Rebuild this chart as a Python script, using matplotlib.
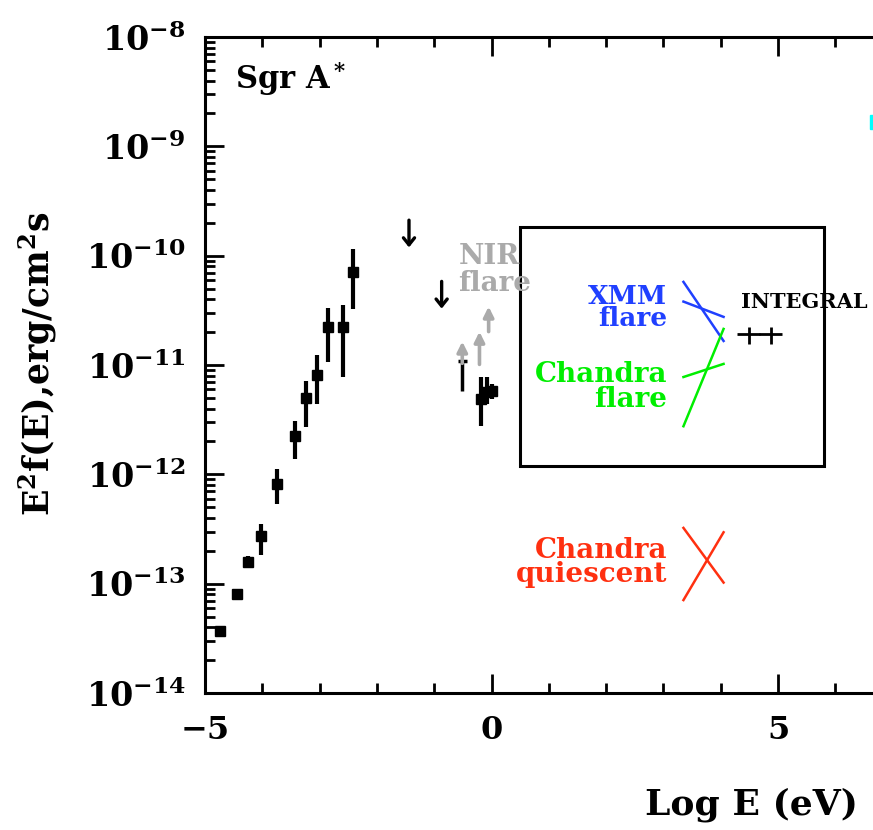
import matplotlib
matplotlib.use('Agg')
import matplotlib.pyplot as plt
import numpy as np
from matplotlib.ticker import MultipleLocator, LogLocator, FuncFormatter, NullFormatter, FixedLocator
from matplotlib.patches import Rectangle

plt.rcParams['font.family'] = ['DejaVu Serif']
plt.rcParams['font.weight'] = 'bold'
plt.rcParams['mathtext.fontset'] = 'dejavuserif'
plt.rcParams['mathtext.default'] = 'bf'

# radio / sub-mm points (log E in eV, log E^2 f(E))
radio_logE = [-4.74, -4.44, -4.25, -4.02, -3.74, -3.43, -3.24, -3.05, -2.85, -2.59, -2.42]
radio_logF = [-13.43, -13.09, -12.80, -12.56, -12.09, -11.65, -11.30, -11.09, -10.65, -10.65, -10.15]
radio_up = [0.0, 0.0, 0.05, 0.11, 0.14, 0.14, 0.15, 0.18, 0.17, 0.20, 0.21]
radio_dn = [0.0, 0.0, 0.05, 0.18, 0.18, 0.21, 0.27, 0.27, 0.32, 0.46, 0.34]

# upper limits (black arrows)
ul_logE = [-1.44, -0.87]
ul_logF = [-9.65, -10.21]

# NIR quiescent (black)
nirq_logE = [-0.19, -0.07, 0.00]
nirq_logF = [-11.31, -11.25, -11.24]
nirq_up = [0.20, 0.14, 0.07]
nirq_dn = [0.25, 0.11, 0.07]

# NIR flare (grey, lower limits)
nirf_logE = [-0.51, -0.21, -0.05]
nirf_lo = [-11.01, -11.02, -10.72]
nirf_hi = [-10.76, -10.67, -10.44]

# X-ray bow ties: (logE1, logE2) and two lines (logF at E1, logF at E2)
bow_logE = [3.35, 4.05]
xmm_line1 = [-10.24, -10.78]
xmm_line2 = [-10.42, -10.56]
chf_line1 = [-11.56, -10.67]
chf_line2 = [-11.11, -10.99]
chq_line1 = [-12.49, -12.99]
chq_line2 = [-13.15, -12.53]

# INTEGRAL points
int_logE = [4.49, 4.87]
int_logF = [-10.72, -10.72]

fig = plt.figure(figsize=(8.73, 8.3), dpi=100)
ax = fig.add_axes([205 / 873, 137 / 830, 20 * 57.3 / 873, 656 / 830])
ax.set_yscale('log')
ax.set_xlim(-5, 15)
ax.set_ylim(1e-14, 1e-8)

# radio
F = 10 ** np.array(radio_logF)
yerr = [F - 10 ** (np.array(radio_logF) - radio_dn), 10 ** (np.array(radio_logF) + radio_up) - F]
ax.errorbar(radio_logE, F, yerr=yerr, fmt='s', color='k', ms=7, elinewidth=3, capsize=0)

# upper limits
for x, y in zip(ul_logE, ul_logF):
    ax.annotate('', xy=(x, 10 ** (y - 0.3)), xytext=(x, 10 ** y),
                arrowprops=dict(arrowstyle='->,head_length=0.5,head_width=0.4', lw=2.4, color='k'))

# NIR flare grey arrows
ax.errorbar([nirf_logE[0]], [10 ** -10.96], yerr=[[10 ** -10.96 - 10 ** -11.24], [0]],
            xerr=0.08, fmt='none', color='k', elinewidth=2.5, capsize=0)
for x, lo, hi in zip(nirf_logE, nirf_lo, nirf_hi):
    ax.annotate('', xy=(x, 10 ** hi), xytext=(x, 10 ** lo),
                arrowprops=dict(arrowstyle='-|>,head_length=0.6,head_width=0.3', lw=2.6,
                                color='#aaaaaa'))

# NIR quiescent
F = 10 ** np.array(nirq_logF)
yerr = [F - 10 ** (np.array(nirq_logF) - nirq_dn), 10 ** (np.array(nirq_logF) + nirq_up) - F]
ax.errorbar(nirq_logE, F, yerr=yerr, xerr=0.07, fmt='s', color='k', ms=7, elinewidth=3, capsize=0)

# bow ties
for lines, col in [((xmm_line1, xmm_line2), '#2040ff'),
                   ((chf_line1, chf_line2), '#00ee00'),
                   ((chq_line1, chq_line2), '#ff3010')]:
    for ln in lines:
        ax.plot(bow_logE, 10 ** np.array(ln), color=col, lw=1.8)

# INTEGRAL
F = 10 ** np.array(int_logF)
ax.errorbar(int_logE, F, xerr=0.2, yerr=[F - 10 ** (np.array(int_logF) - 0.09), 10 ** (np.array(int_logF) + 0.07) - F],
            fmt='none', color='k', elinewidth=2, capsize=0)

# cyan point (cut off at the edge)
ax.plot([6.72], [10 ** -8.78], 's', color='#00ffff', ms=10, clip_on=False)

# box
ax.add_patch(Rectangle((0.5, 10 ** -11.92), 5.3, 10 ** -9.74 - 10 ** -11.92,
                       fill=False, lw=2.2, ec='k'))

# labels
ax.text(-4.48, 10 ** -8.38, r'Sgr A$^*$', fontsize=22, va='center', ha='left')
ax.text(-0.58, 10 ** -10.13, 'NIR\nflare', fontsize=20, color='#aaaaaa', va='center', ha='left',
        linespacing=1.0)
ax.text(3.07, 10 ** -10.47, 'XMM\nflare', fontsize=19, color='#2040ff', va='center', ha='right',
        multialignment='right', linespacing=0.85)
ax.text(3.07, 10 ** -11.20, 'Chandra\nflare', fontsize=20, color='#00ee00', va='center', ha='right',
        multialignment='right', linespacing=0.9)
ax.text(3.07, 10 ** -12.81, 'Chandra\nquiescent', fontsize=20, color='#ff3010', va='center', ha='right',
        multialignment='right', linespacing=0.85)
ax.text(4.35, 10 ** -10.42, 'INTEGRAL', fontsize=15, color='k', va='center', ha='left')

# axes styling
for s in ax.spines.values():
    s.set_linewidth(2.2)
ax.xaxis.set_major_locator(FixedLocator([-5, 0, 5]))
ax.xaxis.set_minor_locator(MultipleLocator(1))
ax.yaxis.set_major_locator(LogLocator(base=10, numticks=20))
ax.yaxis.set_minor_locator(LogLocator(base=10, subs=np.arange(2, 10), numticks=20))
ax.yaxis.set_minor_formatter(NullFormatter())
ax.yaxis.set_major_formatter(FuncFormatter(lambda v, p: r'$10^{%d}$' % round(np.log10(v))))
ax.tick_params(which='both', direction='in', top=True, right=True, width=2)
ax.tick_params(which='major', length=14)
ax.tick_params(which='minor', length=7)
ax.tick_params(axis='y', which='major', labelsize=24, pad=14)
ax.tick_params(axis='x', which='major', labelsize=23, pad=16)

fig.text(38 / 873, 1 - 364 / 830, r'E$^2$f(E),erg/cm$^2$s', rotation=90, fontsize=25,
         ha='center', va='center')
fig.text(645 / 873, 1 - 805 / 830, 'Log E (eV)', fontsize=26, ha='left', va='center')

fig.savefig('out.png', dpi=100)
